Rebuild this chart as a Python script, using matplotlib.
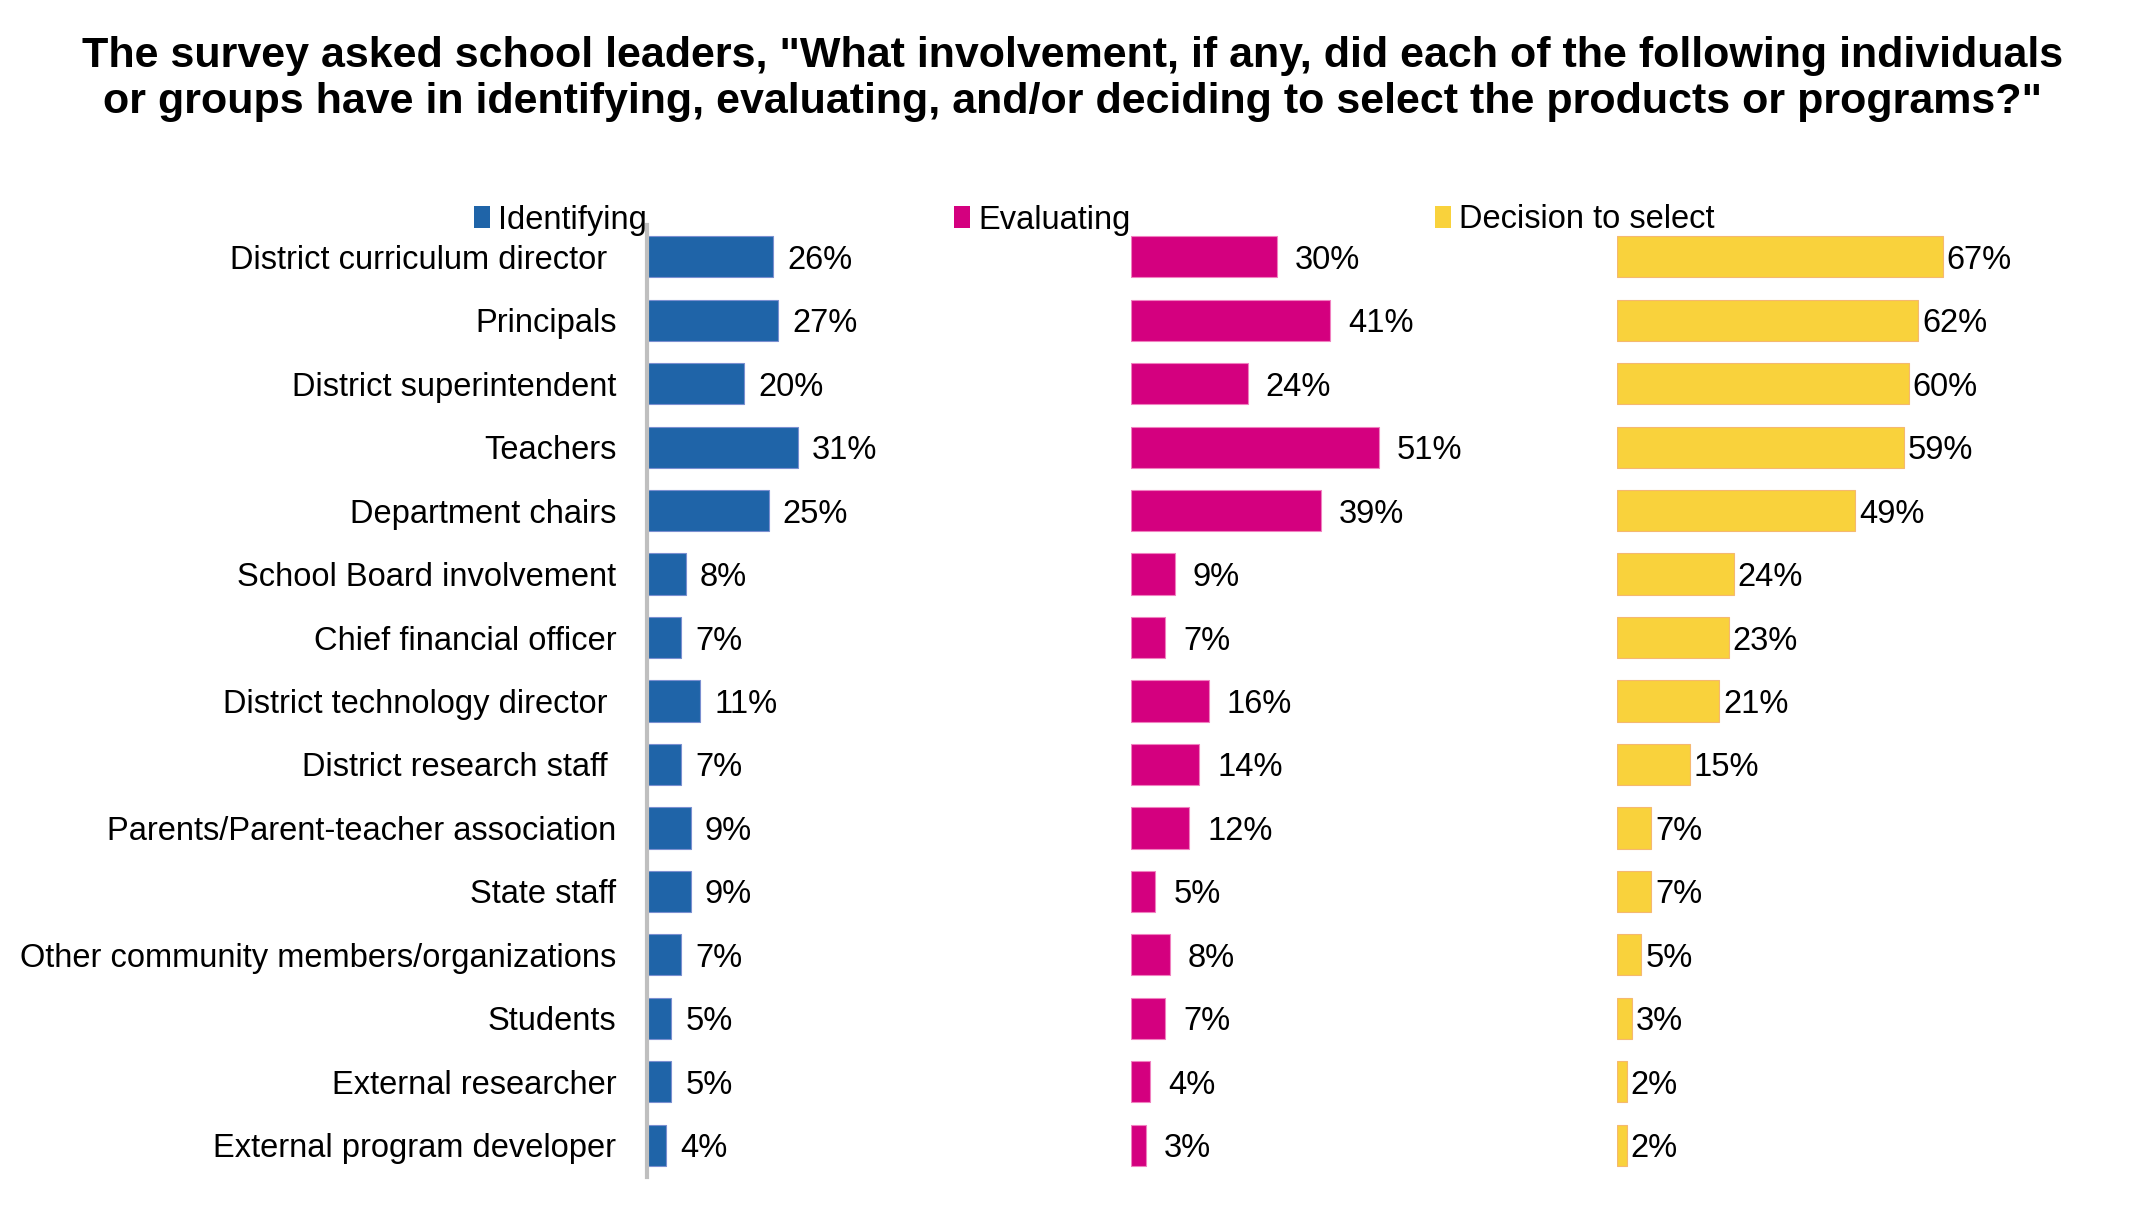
"""Who was involved in identifying, evaluating and selecting products: three bar panels."""

import matplotlib.pyplot as plt
from matplotlib.patches import Patch

plt.rcParams["font.family"] = ["Liberation Sans", "DejaVu Sans"]

# Data ---------------------------------------------------------------
groups = [
    "District curriculum director ",
    "Principals",
    "District superintendent",
    "Teachers",
    "Department chairs",
    "School Board involvement",
    "Chief financial officer",
    "District technology director ",
    "District research staff ",
    "Parents/Parent-teacher association",
    "State staff",
    "Other community members/organizations",
    "Students",
    "External researcher",
    "External program developer",
]
identifying = [26, 27, 20, 31, 25, 8, 7, 11, 7, 9, 9, 7, 5, 5, 4]
evaluating = [30, 41, 24, 51, 39, 9, 7, 16, 14, 12, 5, 8, 7, 4, 3]
decision = [67, 62, 60, 59, 49, 24, 23, 21, 15, 7, 7, 5, 3, 2, 2]
series_names = ["Identifying", "Evaluating", "Decision to select"]

colors = ["#1F64A8", "#D4007F", "#F9D23C"]
edge_colors = ["#7A8FD0", "#F080C0", "#F5B870"]

TITLE = ('The survey asked school leaders, "What involvement, if any, did each of the following individuals\n'
         'or groups have in identifying, evaluating, and/or deciding to select the products or programs?"')

W, H = 2145, 1223
FS = 23.5
fig = plt.figure(figsize=(W / 100, H / 100), dpi=100)

# panel geometry in pixels (left edge of each panel's zero line)
panel_left = [647, 1131, 1617]
panel_width = 486  # = 100 percentage points
top_px, bottom_px = 225, 1177
label_pad_px = [14, 18, 4]
legend_x_px = [474, 954, 1435]

fig.suptitle(TITLE, x=0.5, y=1 - 36 / H, fontsize=31, fontweight="bold",
             va="top", linespacing=1.2)

n = len(groups)
rows = list(range(n))
for i, (vals, name) in enumerate(zip([identifying, evaluating, decision], series_names)):
    ax = fig.add_axes([panel_left[i] / W, 1 - bottom_px / H,
                       panel_width / W, (bottom_px - top_px) / H])
    ax.barh(rows, vals, height=0.65, color=colors[i],
            edgecolor=edge_colors[i], linewidth=0.8)
    ax.set_xlim(0, 100)
    ax.set_ylim(n - 0.5, -0.5)
    for spine in ax.spines.values():
        spine.set_visible(False)
    ax.set_xticks([])
    if i == 0:
        ax.spines["left"].set_visible(True)
        ax.spines["left"].set_color("#BFBFBF")
        ax.spines["left"].set_linewidth(3)
        ax.set_yticks(rows)
        ax.set_yticklabels(groups, fontsize=FS)
        ax.tick_params(axis="y", length=0, pad=22)
    else:
        ax.set_yticks([])

    pad_pts = label_pad_px[i] * 0.72
    for r, v in zip(rows, vals):
        ax.annotate(f"{v}%", xy=(v, r), xytext=(pad_pts, 0),
                    textcoords="offset points", va="center_baseline",
                    ha="left", fontsize=FS)

    fig.legend(handles=[Patch(facecolor=colors[i], edgecolor="none")],
               labels=[name], loc="center left",
               bbox_to_anchor=(legend_x_px[i] / W, 1 - 220 / H),
               frameon=False, fontsize=FS, handlelength=0.5,
               handleheight=0.65, handletextpad=0.25, borderpad=0,
               borderaxespad=0)

fig.savefig("out.png", dpi=100, facecolor="white")
